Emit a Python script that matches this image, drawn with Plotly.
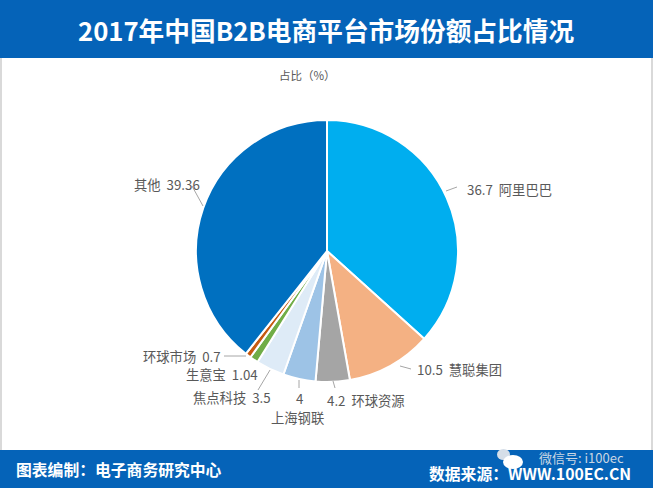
import plotly.graph_objects as go

W = 653
H = 488
CJK = "Noto Sans CJK SC"

platforms = ["阿里巴巴", "慧聪集团", "环球资源", "上海钢联", "焦点科技", "生意宝", "环球市场", "其他"]
shares = [36.7, 10.5, 4.2, 4, 3.5, 1.04, 0.7, 39.36]
slice_colors = ["#00AEEF", "#F4B183", "#A5A5A5", "#9DC3E6", "#DEEBF7", "#70AD47", "#C55A11", "#0070C0"]

# label text, x, y, anchor (pixels)
slice_labels = [
    ("36.7  阿里巴巴", 465, 189, "left"),
    ("10.5  慧聪集团", 415, 369, "left"),
    ("4.2  环球资源", 325, 400, "left"),
    ("4", 299, 398, "center"),
    ("上海钢联", 297, 417, "center"),
    ("焦点科技  3.5", 191, 397, "left"),
    ("生意宝  1.04", 184, 374, "left"),
    ("环球市场  0.7", 141, 356, "left"),
    ("其他  39.36", 132, 185, "left"),
]
# leader lines (pixels)
leaders = [
    (457, 187, 446, 191),
    (411, 369, 400, 366),
    (335, 388, 333, 381),
    (299, 388, 299, 380),
    (258, 390, 270, 370),
    (224, 356, 246, 356),
    (192, 186, 203, 206),
]


def px(x):
    return x / W


def py(y):
    return 1 - y / H


def text(s, x, y, size, color, anchor="center", family=CJK):
    return dict(text=s, x=px(x), y=py(y), xref="paper", yref="paper", xanchor=anchor, yanchor="middle",
                showarrow=False, font=dict(size=size, color=color, family=family))


def rect(x0, y0, x1, y1, color):
    return dict(type="rect", xref="paper", yref="paper", x0=px(x0), y0=py(y0), x1=px(x1), y1=py(y1),
                fillcolor=color, line=dict(width=0), layer="below")


def blob(x0, y0, x1, y1, color):
    return dict(type="circle", xref="paper", yref="paper", x0=px(x0), y0=py(y0), x1=px(x1), y1=py(y1),
                fillcolor=color, line=dict(width=0))


fig = go.Figure(go.Pie(
    labels=platforms,
    values=shares,
    sort=False,
    direction="clockwise",
    rotation=0,
    textinfo="none",
    hoverinfo="label+value",
    marker=dict(colors=slice_colors, line=dict(color="white", width=2)),
    domain=dict(x=[px(196), px(458)], y=[py(382), py(120)]),
    showlegend=False,
))

shapes = [
    rect(0, 58, 2, 450, "#D9D9D9"),
    rect(651, 58, 653, 450, "#D9D9D9"),
    rect(0, 0, 653, 58, "#0563B8"),
    rect(0, 450, 653, 488, "#0563B8"),
    # wechat watermark icon
    blob(497, 449, 510, 460, "#D5DEE8"),
    blob(503, 455, 523, 469, "white"),
]
for x0, y0, x1, y1 in leaders:
    shapes.append(dict(type="line", xref="paper", yref="paper", x0=px(x0), y0=py(y0), x1=px(x1), y1=py(y1),
                       line=dict(color="#A6A6A6", width=1)))

annotations = [
    text("<b>2017年中国B2B电商平台市场份额占比情况</b>", 326, 29, 25.7, "white"),
    text("占比（%）", 307, 75, 11.5, "#595959"),
    text("<b>图表编制：电子商务研究中心</b>", 14, 469, 15.8, "white", "left"),
    text("<b>数据来源：WWW.100EC.CN</b>", 427, 473, 15.8, "white", "left"),
    text("微信号: i100ec", 581, 457, 13, "#C9D6E3", "center"),
]
for s, x, y, anchor in slice_labels:
    annotations.append(text(s, x, y, 13.3, "#595959", anchor))

fig.update_layout(
    width=W,
    height=H,
    margin=dict(l=0, r=0, t=0, b=0),
    paper_bgcolor="white",
    shapes=shapes,
    annotations=annotations,
)

# page default margin would push the chart 8px off the corner
fig.write_html("out.html", config={"displayModeBar": False}, post_script="document.body.style.margin='0';")
